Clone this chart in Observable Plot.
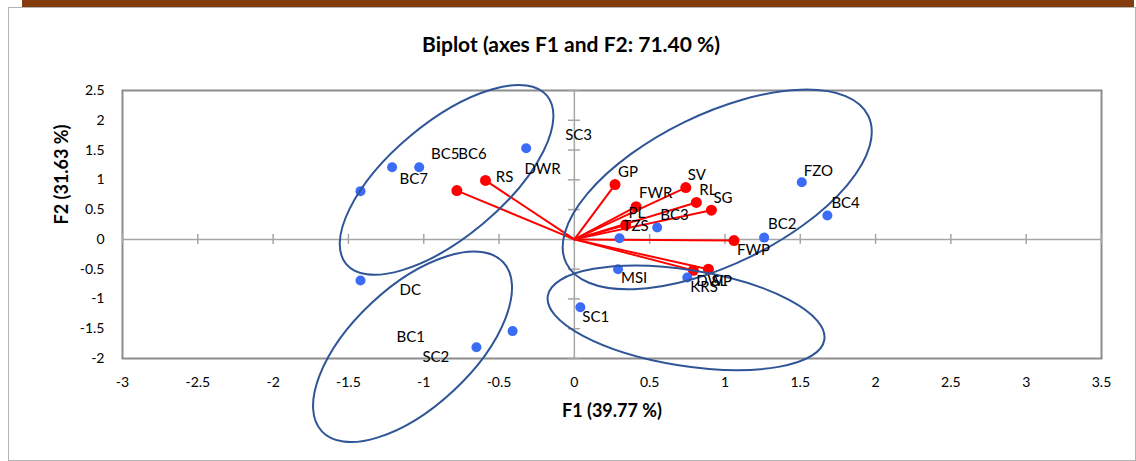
<!DOCTYPE html>
<html><head><meta charset="utf-8">
<script src="https://cdn.jsdelivr.net/npm/d3@7"></script>
<script src="https://cdn.jsdelivr.net/npm/@observablehq/plot@0.6"></script>
<style>
body{margin:0;background:#fff;font-family:Lato, "Liberation Sans", sans-serif;}
#wrap{position:relative;width:1136px;height:461px;overflow:hidden;background:#fff;}
#bar{position:absolute;left:22px;top:0;width:1112px;height:7px;background:#843C0C;}
#frame{position:absolute;left:8px;top:7px;width:1126px;height:452px;border:1px solid #B4B4B4;}
#title{position:absolute;left:0;width:1142px;top:31px;text-align:center;font-weight:bold;font-size:21px;color:#000;}
#chart{position:absolute;left:0;top:0;}
</style></head>
<body>
<div id="wrap"><div id="frame"></div><div id="bar"></div><div id="chart"></div>
<div id="title">Biplot (axes F1 and F2: 71.40 %)</div></div>
<script>
const xTicks = [-3,-2.5,-2,-1.5,-1,-0.5,0,0.5,1,1.5,2,2.5,3,3.5];
const yTicks = [-2,-1.5,-1,-0.5,0,0.5,1,1.5,2,2.5];

const obsNames = ["BC1","BC2","BC3","BC4","BC5","BC6","BC7","DC","SC1","SC2","SC3","FZO","MSI","KRS","TZS"];
const obsF1 = [-0.41,1.26,0.55,1.68,-1.21,-1.03,-1.42,-1.42,0.04,-0.65,-0.32,1.51,0.29,0.75,0.30];
const obsF2 = [-1.54,0.03,0.20,0.40,1.21,1.21,0.81,-0.69,-1.14,-1.81,1.53,0.96,-0.50,-0.64,0.02];
const obsLabelDx = [-116,4,3,4,39,39,39,39,2,-54,39,2,3,3,3];
const obsLabelDy = [6,-13,-12,-12,-13,-13,-12,10,10,10,-13,-11,9,10,-12];

const varNames = ["GP","SV","FWR","RL","SG","PL","FWP","RS","DWR","DWP","SL"];
const varF1 = [0.27,0.74,0.41,0.81,0.91,0.34,1.06,-0.78,-0.59,0.79,0.89];
const varF2 = [0.92,0.87,0.55,0.62,0.49,0.24,-0.02,0.82,0.99,-0.52,-0.50];
const varLabelDx = [3,2,3,3,2,3,3,39,39,3,3];
const varLabelDy = [-12,-12,-13,-12,-12,-12,10,-13,-11,11,12];

// group ellipses (annotation): centre in F1/F2 units, radii in px, rotation in degrees
const ellCx = [-0.845,-1.071,0.952,0.745];
const ellCy = [0.99,-1.812,0.83,-1.326];
const ellRx = [131,124,168,140];
const ellRy = [57,60,75,48];
const ellAngle = [-40,-43,-26,9];

const obs = obsNames.map((n,i)=>({name:n,f1:obsF1[i],f2:obsF2[i],dx:obsLabelDx[i],dy:obsLabelDy[i]}));
const vars = varNames.map((n,i)=>({name:n,f1:varF1[i],f2:varF2[i],dx:varLabelDx[i],dy:varLabelDy[i]}));
const ells = ellCx.map((c,i)=>({cx:c,cy:ellCy[i],rx:ellRx[i],ry:ellRy[i],a:ellAngle[i]}));

const blue = "#3b6cf6", red = "#ff0000", axisGray = "#a6a6a6";
const font = "Lato, 'Liberation Sans', sans-serif";

const ellipseMark = (index, scales) => {
  const g = d3.create("svg:g");
  for (const e of ells) {
    const cx = scales.x(e.cx), cy = scales.y(e.cy);
    g.append("ellipse").attr("cx",cx).attr("cy",cy).attr("rx",e.rx).attr("ry",e.ry)
      .attr("transform",`rotate(${e.a} ${cx} ${cy})`)
      .attr("fill","none").attr("stroke","#2f5597").attr("stroke-width",2);
  }
  return g.node();
};

const plot = Plot.plot({
  width:1136, height:461,
  marginLeft:122, marginRight:35, marginTop:90, marginBottom:103,
  x:{domain:[-3,3.5]}, y:{domain:[-2,2.5]},
  style:{fontFamily:font, background:"transparent", overflow:"visible"},
  marks:[
    Plot.frame({stroke:"#8c8c8c", strokeWidth:2}),
    Plot.ruleY([0],{stroke:axisGray, strokeWidth:1.5}),
    Plot.ruleX([0],{stroke:axisGray, strokeWidth:1.5}),
    Plot.ruleX(xTicks,{x:d=>d, y1:0, y2:0, insetTop:-5, insetBottom:-5, stroke:axisGray, strokeWidth:1.5}),
    Plot.ruleY(yTicks,{y:d=>d, x1:0, x2:0, insetLeft:-6, insetRight:-6, stroke:axisGray, strokeWidth:1.5}),
    Plot.axisX(xTicks,{tickSize:0, tickPadding:19, tickFormat:d=>String(d), fontSize:14, label:null, fill:"#000"}),
    Plot.axisY(yTicks,{tickSize:0, tickPadding:18, tickFormat:d=>String(d), fontSize:14, label:null, fill:"#000"}),
    Plot.text(["F1 (39.77 %)"],{frameAnchor:"bottom", dy:58, fontWeight:"bold", fontSize:18, fill:"#000"}),
    Plot.text(["F2 (31.63 %)"],{frameAnchor:"left", dx:-60, rotate:-90, fontWeight:"bold", fontSize:18, fill:"#000"}),
    Plot.link(vars,{x1:0, y1:0, x2:"f1", y2:"f2", stroke:red, strokeWidth:2}),
    Plot.dot(vars,{x:"f1", y:"f2", r:5.5, fill:red}),
    Plot.dot(obs,{x:"f1", y:"f2", r:5, fill:blue}),
    ellipseMark,
    ...obs.map(d=>Plot.text([d],{x:"f1", y:"f2", text:"name", dx:d.dx, dy:d.dy, textAnchor:"start", fontSize:15, fill:"#000"})),
    ...vars.map(d=>Plot.text([d],{x:"f1", y:"f2", text:"name", dx:d.dx, dy:d.dy, textAnchor:"start", fontSize:15, fill:"#000"}))
  ]
});
document.getElementById("chart").appendChild(plot);
</script>
</body></html>
